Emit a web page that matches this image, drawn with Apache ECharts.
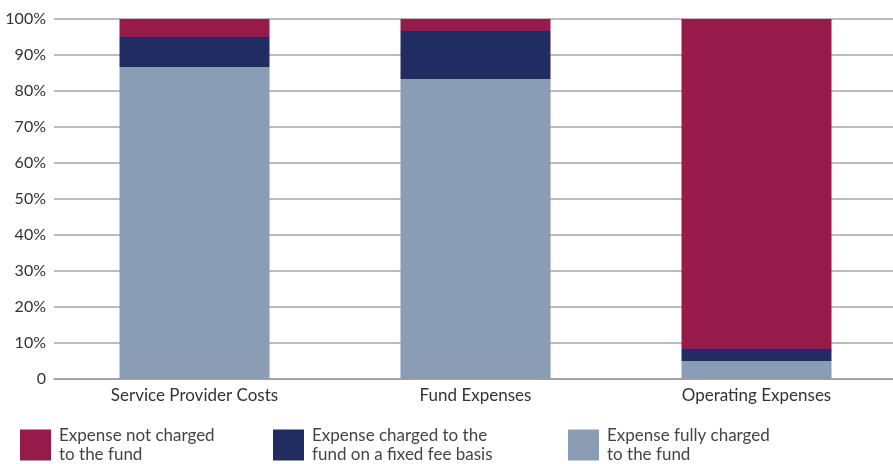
<!DOCTYPE html>
<html>
<head>
<meta charset="utf-8">
<script src="https://cdn.jsdelivr.net/npm/echarts@6/dist/echarts.min.js"></script>
<style>
  html, body { margin: 0; padding: 0; background: #fff; overflow: hidden; }
  #chart { width: 897px; height: 464px; }
</style>
</head>
<body>
<div id="chart"></div>
<script>
var categories = ["Service Provider Costs", "Fund Expenses", "Operating Expenses"];
var fullyCharged = [86.7, 83.3, 5];
var fixedFee = [8.3, 13.4, 3.3];
var notCharged = [5, 3.3, 91.7];
var seriesNames = ["Expense not charged to the fund", "Expense charged to the fund on a fixed fee basis", "Expense fully charged to the fund"];
var legendLabels = {
  "Expense not charged to the fund": "Expense not charged\nto the fund",
  "Expense charged to the fund on a fixed fee basis": "Expense charged to the\nfund on a fixed fee basis",
  "Expense fully charged to the fund": "Expense fully charged\nto the fund"
};

var myColor = { crimson: "#961b4a", navy: "#212c63", light: "#8a9db5" };
var font = "Lato, 'Open Sans', sans-serif";

// chart div is a few px wider than the window so the plot runs off the right edge like the original
var chart = echarts.init(document.getElementById("chart"));

function makeLegend(name, left) {
  return {
    data: [name],
    left: left,
    top: 426,
    padding: 0,
    orient: "horizontal",
    icon: "rect",
    itemWidth: 31,
    itemHeight: 31,
    itemGap: 0,
    selectedMode: false,
    formatter: function(n) { return legendLabels[n]; },
    textStyle: { color: "#444", fontSize: 17, fontFamily: font, lineHeight: 19, padding: [0, 0, 0, 3] }
  };
}

chart.setOption({
  animation: false,
  grid: { left: 54, top: 19, right: 0, bottom: 85, containLabel: false },
  legend: [
    makeLegend(seriesNames[0], 20),
    makeLegend(seriesNames[1], 273),
    makeLegend(seriesNames[2], 568)
  ],
  xAxis: {
    type: "category",
    data: categories,
    axisTick: { show: false },
    axisLine: { lineStyle: { color: "#999", width: 1.5 } },
    axisLabel: { color: "#333", fontSize: 17, fontFamily: font, margin: 8 }
  },
  yAxis: {
    type: "value",
    min: 0,
    max: 100,
    interval: 10,
    axisLine: { show: false },
    axisTick: { show: false },
    splitLine: { lineStyle: { color: "#a6a6a6", width: 1.5 } },
    axisLabel: {
      color: "#333",
      fontSize: 16,
      fontFamily: font,
      margin: 8,
      formatter: function(v) { return v === 0 ? "0" : v + "%"; }
    }
  },
  series: [
    {
      name: seriesNames[2],
      type: "bar",
      stack: "total",
      barWidth: 150,
      data: fullyCharged,
      itemStyle: { color: myColor.light }
    },
    {
      name: seriesNames[1],
      type: "bar",
      stack: "total",
      barWidth: 150,
      data: fixedFee,
      itemStyle: { color: myColor.navy }
    },
    {
      name: seriesNames[0],
      type: "bar",
      stack: "total",
      barWidth: 150,
      data: notCharged,
      itemStyle: { color: myColor.crimson }
    }
  ]
});
</script>
</body>
</html>
